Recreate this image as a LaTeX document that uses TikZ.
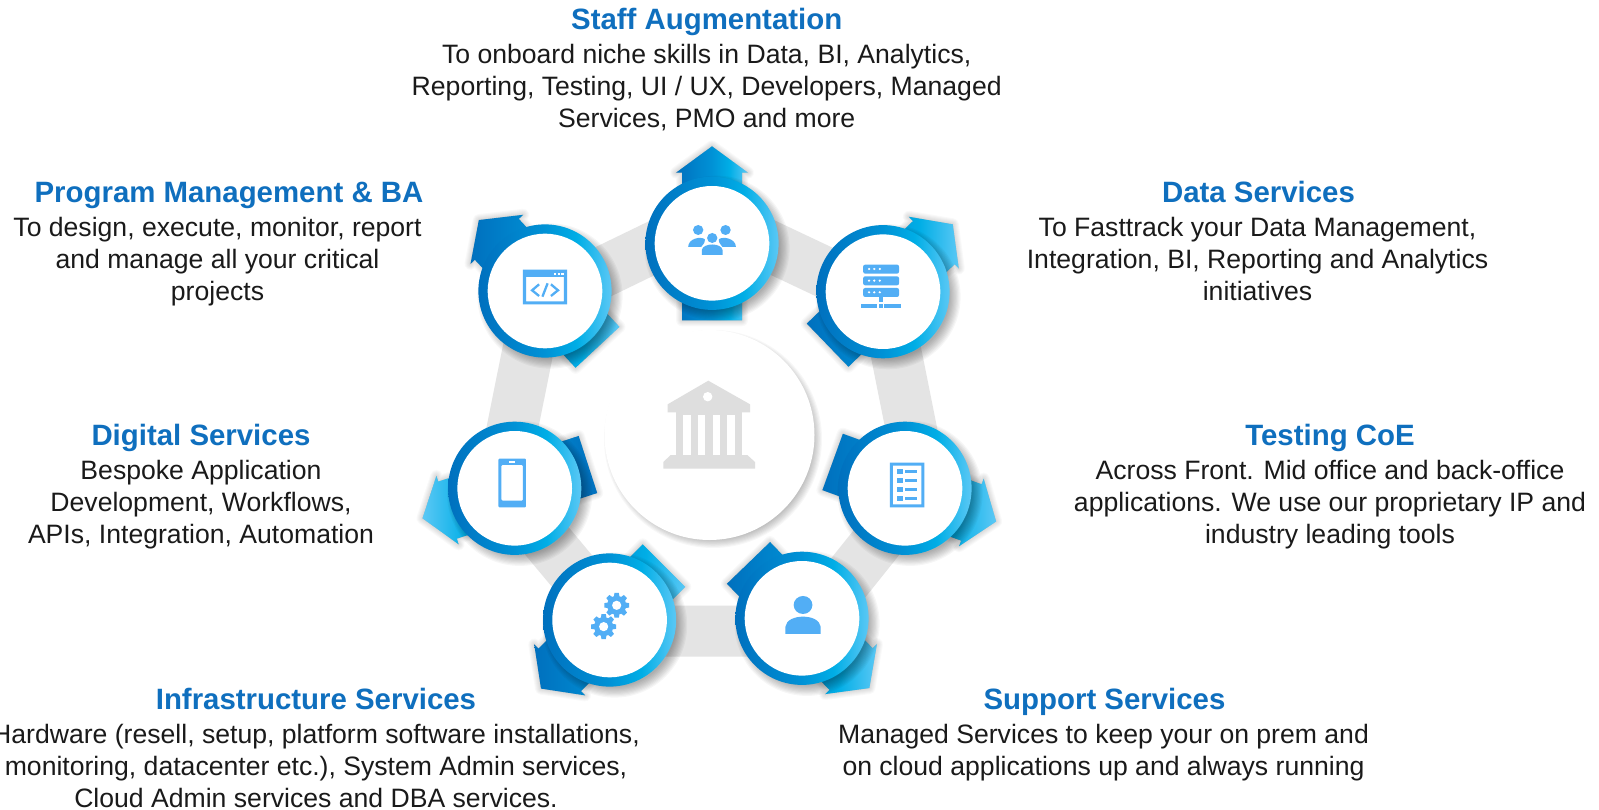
\documentclass[tikz,border=0pt]{standalone}
\usepackage{fontspec}
\setmainfont{Liberation Sans}
\usetikzlibrary{calc}
\definecolor{titleblue}{HTML}{0F6FBE}
\definecolor{bodyink}{HTML}{1A1A1A}
\definecolor{iconblue}{HTML}{52AEF5}
\definecolor{bandgrey}{HTML}{E4E4E4}
\definecolor{bldgrey}{HTML}{DEDEDE}
\definecolor{ringa}{HTML}{0070BE}
\definecolor{ringb}{HTML}{0092D6}
\definecolor{ringc}{HTML}{00AEE6}
\definecolor{ringd}{HTML}{5BC8F5}
\pgfdeclarehorizontalshading{ringshade}{100bp}{
 color(0bp)=(ringa);color(25bp)=(ringa);color(50bp)=(ringb);
 color(62bp)=(ringc);color(75bp)=(ringd);color(100bp)=(ringd)}
\tikzset{
 titletext/.style={font=\fontsize{29.4}{32}\selectfont\bfseries,text=titleblue,inner sep=0pt,anchor=base},
 bodytext/.style={font=\fontsize{26.6}{31.9}\selectfont,text=bodyink,inner sep=0pt,anchor=north,align=center},
 icon/.style={fill=iconblue,draw=none},
 zA/.style={shift={(420,130)},xscale=0.3699,yscale=0.3333},
 zB/.style={shift={(410,400)},xscale=0.3827,yscale=0.3333},
}
% soft shadow of a disc
\newcommand{\softdisc}[4]{%
 \foreach \k in {0,...,9}{\fill[black,opacity=#4] ({#1+5},{#2+5}) circle ({#3+6-\k*1.2});}}
% arrow: cx cy angle shading-angle
\newcommand{\blockarrow}[4]{%
 \begin{scope}[shift={(#1,#2)},rotate=#3,yscale=-1]
  \foreach \k in {12,10,...,2}{
   \draw[black,opacity=0.022,line width=\k pt,fill=black,line join=round]
    (97,0)--(70.6,36)--(70.6,30)--(-77,30)--(-77,-30)--(70.6,-30)--(70.6,-36)--cycle;}
  \shade[shading=ringshade,shading angle=#4]
    (97,0)--(70.6,36)--(70.6,30)--(-77,30)--(-77,-30)--(70.6,-30)--(70.6,-36)--cycle;
 \end{scope}}
\newcommand{\hubdisc}[2]{%
 \softdisc{#1}{#2}{66.6}{0.035}
 \shade[shading=ringshade] (#1,#2) circle (66.6);
 \fill[white] (#1,#2) circle (57.3);}
\begin{document}
\begin{tikzpicture}[x=1pt,y=-1pt]
\useasboundingbox (0,0) rectangle (1599,810);
\fill[white] (0,0) rectangle (1599,810);
% grey heptagon band
\draw[bandgrey,line width=51pt,line join=miter]
 (712,219)--(885.7,301)--(922.5,485)--(805.7,631)--(622,631)--(500.8,485.7)--(537.3,303.7)--cycle;
% central disc
\foreach \k in {0,...,9}{\fill[black,opacity=0.03] (713,439) circle ({109-\k*1.1});}
\fill[white] (709.5,435) circle (105);
% building
\fill[bldgrey] (708.3,380.7)--(750,404.3)--(750,412.3)--(667.7,412.3)--(667.7,404.3)--cycle;
\fill[white] (707.7,396.7) circle (4.7);
\fill[bldgrey] (676,412) rectangle (742.3,456);
\foreach \xa/\xb in {683.3/690.7,697.7/705.3,712.7/720,727.3/734.7}{\fill[white] (\xa,414.5) rectangle (\xb,455);}
\fill[bldgrey] (670.7,455)--(747.3,455)--(755,462)--(755,468.7)--(663.3,468.7)--(663.3,462)--cycle;
% arrows and rings
\blockarrow{712}{243.3}{90}{0}
\blockarrow{545}{291}{133}{0}
\blockarrow{883}{291.7}{44}{0}
\blockarrow{514.7}{488.3}{198}{180}
\blockarrow{905}{488.3}{-20}{0}
\blockarrow{609.6}{620}{225}{0}
\blockarrow{802}{618.3}{-46}{0}
\hubdisc{712}{243.3}
\hubdisc{545}{291}
\hubdisc{883}{291.7}
\hubdisc{514.7}{488.3}
\hubdisc{905}{488.3}
\hubdisc{609.6}{620}
\hubdisc{802}{618.3}
% icons in first crop frame
\begin{scope}[zA]
 \fill[icon] (752,300) ellipse (14 and 15);
 \fill[icon] (826,300) ellipse (14 and 15);
 \fill[icon] (790,324) ellipse (14 and 15);
 \fill[icon] (725,351) .. controls (725,325) and (760,318) .. (770,328) .. controls (772,340) and (762,345) .. (760,351) -- cycle;
 \fill[icon] (854,351) .. controls (854,325) and (818,318) .. (808,328) .. controls (806,340) and (816,345) .. (818,351) -- cycle;
 \fill[icon] (762,375) -- (762,360) .. controls (765,338) and (815,338) .. (818,360) -- (818,375) -- cycle;
 \fill[icon,even odd rule] (278,419) rectangle (398,523) (287,441) rectangle (389,514);
 \foreach \xx in {361,372,382}{\fill[white] (\xx,429) rectangle ({\xx+7},436);}
 \draw[iconblue,line width=2.3pt] (322,463)--(303,481)--(322,498);
 \draw[iconblue,line width=2.3pt] (354,463)--(373,481)--(354,498);
 \draw[iconblue,line width=2.3pt] (345,460)--(331,500);
 \foreach \yy in {404,439,474}{
  \fill[icon,rounded corners=2pt] (1198,\yy) rectangle (1295,{\yy+27});
  \foreach \xx in {1214,1228,1243}{\fill[white] (\xx,{\yy+13}) ellipse (3.5 and 3.5);}}
 \fill[icon] (1242,501) rectangle (1251,515);
 \fill[icon] (1192,522) rectangle (1236,534);
 \fill[icon] (1241,522) rectangle (1252,534);
 \fill[icon] (1255,522) rectangle (1300,534);
\end{scope}
\begin{scope}[zB]
 \fill[icon,even odd rule,rounded corners=1pt] (231,176) rectangle (303,322) (239,195) rectangle (295,302);
 \fill[white] (258,183) rectangle (275,189);
 \fill[icon,even odd rule] (1254,188) rectangle (1344,322) (1262,197) rectangle (1336,313);
 \foreach \yy in {208,235,262,289}{
  \fill[icon] (1273,\yy) rectangle (1287,{\yy+13});
  \fill[icon] (1294,{\yy+3}) rectangle (1326,{\yy+10});}
 \fill[icon] (1027,615) ellipse (24.5 and 27);
 \fill[icon] (981,702) -- (981,680) .. controls (985,640) and (1069,640) .. (1073,680) -- (1073,702) -- cycle;
 \foreach \cx/\cy in {540/616,506/680}{
  \foreach \ang in {0,45,...,315}{
   \fill[icon,shift={(\cx,\cy)},xscale=2.613,yscale=3]
     (\ang+20:8.5)--(\ang+10:12.6)--(\ang-10:12.6)--(\ang-20:8.5)--cycle;}
  \fill[icon] (\cx,\cy) ellipse (25 and 28.5);
  \fill[white] (\cx,\cy) ellipse (12 and 13.8);}
\end{scope}
% texts
\node[titletext] (t1) at (706.7,29.2) {Staff Augmentation};
\node[bodytext] (b1) at (706.7,44.5) {To onboard niche skills in Data, BI, Analytics,\\Reporting, Testing, UI / UX, Developers, Managed\\Services, PMO and more};
\node[titletext] (t2) at (229,202.7) {Program Management \& BA};
\node[bodytext] (b2) at (217.5,217.5) {To design, execute, monitor, report\\and manage all your critical\\projects};
\node[titletext] (t3) at (1258.5,202.7) {Data Services};
\node[bodytext] (b3) at (1257.5,217.5) {To Fasttrack your Data Management,\\Integration, BI, Reporting and Analytics\\initiatives};
\node[titletext] (t4) at (201,445.2) {Digital Services};
\node[bodytext] (b4) at (201,460.5) {Bespoke Application\\Development, Workflows,\\APIs, Integration, Automation};
\node[titletext] (t5) at (1330,445.2) {Testing CoE};
\node[bodytext] (b5) at (1330,460.5) {Across Front. Mid office and back-office\\applications. We use our proprietary IP and\\industry leading tools};
\node[titletext] (t6) at (316,709.8) {Infrastructure Services};
\node[bodytext] (b6) at (316,724) {Hardware (resell, setup, platform software installations,\\monitoring, datacenter etc.), System Admin services,\\Cloud Admin services and DBA services.};
\node[titletext] (t7) at (1104.5,709.8) {Support Services};
\node[bodytext] (b7) at (1103.5,724) {Managed Services to keep your on prem and\\on cloud applications up and always running};
\end{tikzpicture}
\end{document}
